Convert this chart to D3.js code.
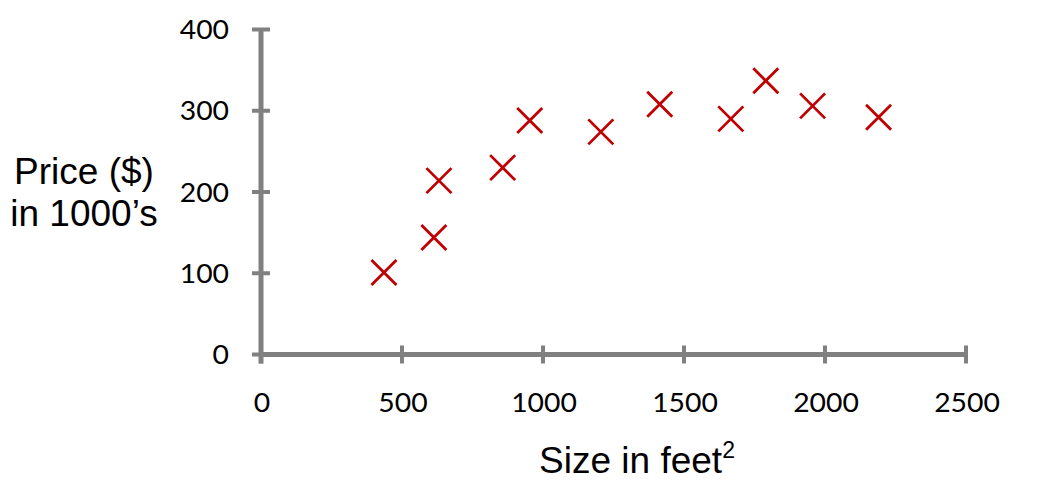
<!DOCTYPE html>
<html><head><meta charset="utf-8">
<script src="https://cdn.jsdelivr.net/npm/d3@7"></script>
<style>body{margin:0;background:#fff}svg{display:block}</style>
</head><body><svg id="c" width="1047" height="488"></svg>
<script>
const sizes  = [436, 613, 631, 857, 953, 1205, 1414, 1666, 1790, 1956, 2190];
const prices = [101, 144, 214, 230, 288, 274, 308, 290, 337, 306, 292];
const xTicks = [0, 500, 1000, 1500, 2000, 2500];
const yTicks = [0, 100, 200, 300, 400];

const svg = d3.select("#c");
const x = d3.scaleLinear().domain([0, 2500]).range([261, 966]);
const y = d3.scaleLinear().domain([0, 400]).range([354.5, 29.5]);
const grey = "#808080";
const tickFont = "Lato, sans-serif";
const titleFont = "Liberation Sans, Arial, sans-serif";
const tsx = 1.09;   // horizontal stretch of tick labels

svg.append("line").attr("x1", x(0)).attr("x2", x(0)).attr("y1", y(400)).attr("y2", y(0) + 9)
  .attr("stroke", grey).attr("stroke-width", 5);
svg.append("line").attr("x1", x(0) - 2).attr("x2", x(2500)).attr("y1", y(0)).attr("y2", y(0))
  .attr("stroke", grey).attr("stroke-width", 5);

svg.selectAll(".yt").data(yTicks).join("line")
  .attr("x1", x(0) - 9).attr("x2", x(0) + 9)
  .attr("y1", d => y(d)).attr("y2", d => y(d))
  .attr("stroke", grey).attr("stroke-width", 4);
svg.selectAll(".xt").data(xTicks).join("line")
  .attr("y1", y(0) - 9).attr("y2", y(0) + 9)
  .attr("x1", d => x(d)).attr("x2", d => x(d))
  .attr("stroke", grey).attr("stroke-width", 4);

svg.selectAll(".yl").data(yTicks).join("text")
  .attr("transform", d => `translate(229,${y(d) + 9.5}) scale(${tsx},1)`)
  .attr("text-anchor", "end").attr("font-family", tickFont).attr("font-size", 26)
  .attr("fill", "#000").text(d => d);
svg.selectAll(".xl").data(xTicks).join("text")
  .attr("transform", d => `translate(${x(d) + 1},412) scale(${tsx},1)`)
  .attr("text-anchor", "middle").attr("font-family", tickFont).attr("font-size", 26)
  .attr("fill", "#000").text(d => d);

const yt = svg.append("text").attr("font-family", titleFont)
  .attr("font-size", 37).attr("text-anchor", "middle").attr("fill", "#000");
yt.append("tspan").attr("x", 84).attr("y", 183.5).text("Price ($)");
yt.append("tspan").attr("x", 84).attr("y", 226).text("in 1000\u2019s");

const xt = svg.append("text").attr("font-family", titleFont)
  .attr("font-size", 37).attr("text-anchor", "middle").attr("fill", "#000")
  .attr("x", 637).attr("y", 473);
xt.append("tspan").text("Size in feet");
xt.append("tspan").attr("font-size", 23).attr("dy", -15).text("2");

const r = 12.5;
const pts = sizes.map((s, i) => [s, prices[i]]);
const g = svg.selectAll(".pt").data(pts).join("g")
  .attr("transform", d => `translate(${x(d[0])},${y(d[1])})`);
g.append("path").attr("d", `M${-r},${-r}L${r},${r}M${-r},${r}L${r},${-r}`)
  .attr("stroke", "#c00000").attr("stroke-width", 2.8).attr("fill", "none");
</script></body></html>
